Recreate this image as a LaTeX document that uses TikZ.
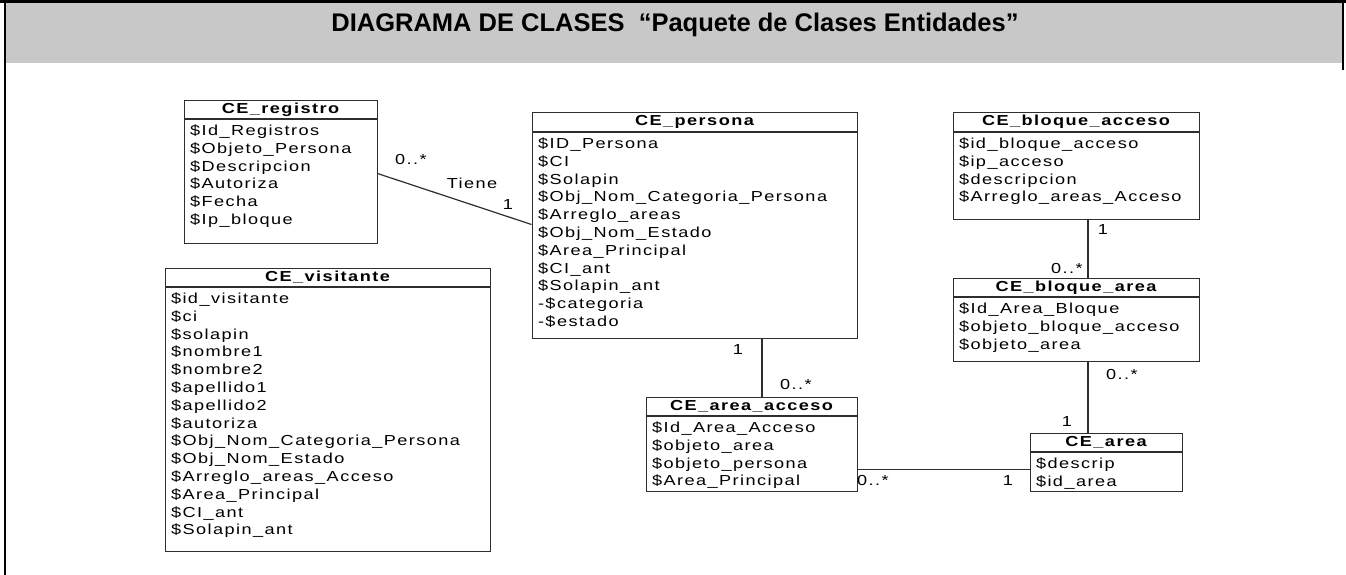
\documentclass[tikz,border=0pt]{standalone}
\usepackage{fontspec}
\setmainfont{Liberation Sans}
\newfontfamily\umlfont[FakeStretch=1.25,LetterSpace=10]{Liberation Sans}
\usetikzlibrary{positioning}
\definecolor{cabecera}{HTML}{C8C8C8}
\definecolor{trazo}{HTML}{2E2E2E}

\begin{document}
\begin{tikzpicture}[x=1pt, y=-1pt,
  nombre/.style={draw=trazo, line width=1pt, anchor=north, minimum height=18pt, inner sep=0pt,
    font={\umlfont\bfseries\fontsize{14.5pt}{17.8pt}\selectfont}},
  atributos/.style={draw=trazo, line width=1pt, align=left, inner xsep=6pt, inner ysep=0pt, text height=16pt,
    font={\umlfont\fontsize{14.5pt}{17.8pt}\selectfont}},
  asoc/.style={draw=trazo, line width=1.2pt},
  mult/.style={inner sep=0pt, font={\umlfont\fontsize{14.5pt}{17.8pt}\selectfont}}]
\useasboundingbox (0,0) rectangle (1346,575);
% ---- marco y cabecera
\fill[cabecera] (5,3) rectangle (1342,63);
\draw[line width=3pt] (0,1.5) -- (1346,1.5);
\draw[line width=2pt] (5,0) -- (5,575);
\draw[line width=2pt] (1343,0) -- (1343,70);
\node[font=\bfseries\fontsize{25.5pt}{30pt}\selectfont] (encabezado) at (675,25) {DIAGRAMA DE CLASES \ “Paquete de Clases Entidades”};
% ---- CE_registro
\node[nombre, minimum width=193pt] (reg) at (280.5,100) {CE\_registro};
\node[atributos, below=0pt of reg, text width=181pt, text depth=108pt] (reg-b)
  {\$Id\_Registros\\\$Objeto\_Persona\\\$Descripcion\\\$Autoriza\\\$Fecha\\\$Ip\_bloque};
% ---- CE_persona
\node[nombre, minimum width=325pt, minimum height=19pt] (per) at (694.5,112) {CE\_persona};
\node[atributos, below=0pt of per, text width=313pt, text depth=190pt] (per-b)
  {\$ID\_Persona\\\$CI\\\$Solapin\\\$Obj\_Nom\_Categoria\_Persona\\\$Arreglo\_areas\\\$Obj\_Nom\_Estado\\
   \$Area\_Principal\\\$CI\_ant\\\$Solapin\_ant\\-\$categoria\\-\$estado};
% ---- CE_bloque_acceso
\node[nombre, minimum width=246pt, minimum height=19pt] (blq) at (1076,112) {CE\_bloque\_acceso};
\node[atributos, below=0pt of blq, text width=234pt, text depth=71pt] (blq-b)
  {\$id\_bloque\_acceso\\\$ip\_acceso\\\$descripcion\\\$Arreglo\_areas\_Acceso};
% ---- CE_bloque_area
\node[nombre, minimum width=246pt] (bar) at (1076,278) {CE\_bloque\_area};
\node[atributos, below=0pt of bar, text width=234pt, text depth=48pt] (bar-b)
  {\$Id\_Area\_Bloque\\\$objeto\_bloque\_acceso\\\$objeto\_area};
% ---- CE_visitante
\node[nombre, minimum width=325pt] (vis) at (327.5,268) {CE\_visitante};
\node[atributos, below=0pt of vis, text width=313pt, text depth=248pt] (vis-b)
  {\$id\_visitante\\\$ci\\\$solapin\\\$nombre1\\\$nombre2\\\$apellido1\\\$apellido2\\\$autoriza\\
   \$Obj\_Nom\_Categoria\_Persona\\\$Obj\_Nom\_Estado\\\$Arreglo\_areas\_Acceso\\\$Area\_Principal\\
   \$CI\_ant\\\$Solapin\_ant};
% ---- CE_area_acceso
\node[nombre, minimum width=211pt] (aac) at (751.5,397) {CE\_area\_acceso};
\node[atributos, below=0pt of aac, text width=199pt, text depth=59pt] (aac-b)
  {\$Id\_Area\_Acceso\\\$objeto\_area\\\$objeto\_persona\\\$Area\_Principal};
% ---- CE_area
\node[nombre, minimum width=152pt] (ar) at (1106,433) {CE\_area};
\node[atributos, below=0pt of ar, text width=140pt, text depth=23pt] (ar-b)
  {\$descrip\\\$id\_area};
% ---- asociaciones
\draw[asoc] ([yshift=8pt]reg-b.east) -- ([yshift=11pt]per-b.west);
\draw[asoc] ([xshift=10.5pt]aac.north) -- ([xshift=10.5pt]aac.north |- per-b.south);
\draw[asoc] ([xshift=12pt]blq-b.south) -- ([xshift=12pt]blq-b.south |- bar.north);
\draw[asoc] ([xshift=12pt]bar-b.south) -- ([xshift=12pt]bar-b.south |- ar.north);
\draw[asoc] ([yshift=2.5pt]ar-b.west) -- ([yshift=2.5pt]ar-b.west -| aac-b.east);
% ---- multiplicidades
\node[mult] (m-reg) at (411,160) {0..*};
\node[mult] (tiene) at (472,183) {Tiene};
\node[mult] (m-per) at (508,205) {1};
\node[mult] (m-per2) at (738,350) {1};
\node[mult] (m-aac) at (796,385) {0..*};
\node[mult] (m-blq) at (1103,230) {1};
\node[mult] (m-bar) at (1067,269) {0..*};
\node[mult] (m-bar2) at (1122,375) {0..*};
\node[mult] (m-ar) at (1067,422) {1};
\node[mult] (m-aac2) at (873,481) {0..*};
\node[mult] (m-ar2) at (1008,481) {1};
\end{tikzpicture}
\end{document}
